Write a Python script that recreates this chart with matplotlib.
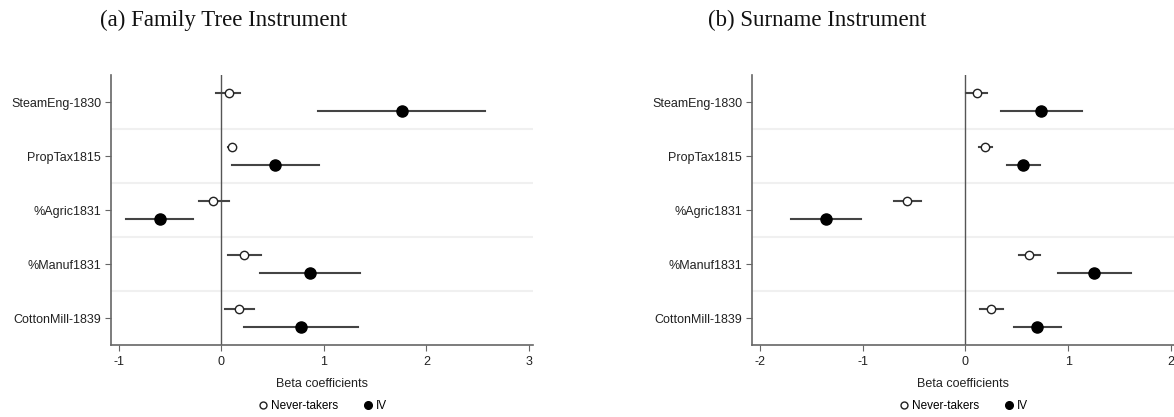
import matplotlib
matplotlib.use("Agg")
from matplotlib import pyplot as plt
from matplotlib.lines import Line2D

plt.rcParams["font.family"] = ["Liberation Sans", "DejaVu Sans"]

variables = ["SteamEng-1830", "PropTax1815", "%Agric1831", "%Manuf1831", "CottonMill-1839"]

# (a) family tree instrument
ft_nt = [0.07, 0.10, -0.08, 0.22, 0.17]
ft_nt_lo = [-0.05, 0.06, -0.22, 0.06, 0.035]
ft_nt_hi = [0.18, 0.14, 0.07, 0.385, 0.32]
ft_iv = [1.76, 0.52, -0.60, 0.86, 0.78]
ft_iv_lo = [0.945, 0.10, -0.93, 0.38, 0.22]
ft_iv_hi = [2.57, 0.95, -0.28, 1.35, 1.33]

# (b) surname instrument
sn_nt = [0.11, 0.19, -0.57, 0.62, 0.25]
sn_nt_lo = [0.01, 0.13, -0.70, 0.52, 0.14]
sn_nt_hi = [0.21, 0.26, -0.43, 0.73, 0.37]
sn_iv = [0.74, 0.56, -1.36, 1.25, 0.70]
sn_iv_lo = [0.35, 0.40, -1.70, 0.90, 0.47]
sn_iv_hi = [1.13, 0.73, -1.02, 1.61, 0.93]

ft_ticks = [-1, 0, 1, 2, 3]
sn_ticks = [-2, -1, 0, 1, 2]


def coefPanel(ax, nt, nt_lo, nt_hi, iv, iv_lo, iv_hi, ticks, xlim):
    n = len(variables)
    ypos = list(range(n))
    # separators between the variables
    for k in range(n - 1):
        ax.axhline(k + 0.5, color="#f0f0f0", lw=1.5, zorder=0)
    ax.axvline(0, color="#555555", lw=1.0, zorder=1)
    off = 1.0 / 6
    for i in ypos:
        ax.plot([nt_lo[i], nt_hi[i]], [i - off, i - off], color="#444444", lw=1.5, zorder=2)
        ax.plot([iv_lo[i], iv_hi[i]], [i + off, i + off], color="#444444", lw=1.5, zorder=2)
    ax.plot(nt, [y - off for y in ypos], "o", ms=6, mfc="white", mec="#222222", mew=1.0,
            ls="none", zorder=3)
    ax.plot(iv, [y + off for y in ypos], "o", ms=8, mfc="black", mec="black",
            ls="none", zorder=3)
    ax.set_ylim(n - 0.5, -0.5)
    ax.set_xlim(*xlim)
    ax.set_yticks(ypos)
    ax.set_yticklabels(variables, fontsize=9, color="#222222")
    ax.set_xticks(ticks)
    ax.set_xticklabels([str(t) for t in ticks], fontsize=9, color="#222222")
    ax.tick_params(axis="both", direction="out", length=4, width=0.8, color="#666666", pad=3)
    ax.tick_params(axis="x", pad=4)
    for side in ["top", "right"]:
        ax.spines[side].set_visible(False)
    for side in ["left", "bottom"]:
        ax.spines[side].set_color("#666666")
        ax.spines[side].set_linewidth(1.2)
    ax.set_xlabel("Beta coefficients", fontsize=9, color="#222222", labelpad=7)
    handles = [
        Line2D([], [], marker="o", ls="none", ms=5, mfc="white", mec="#222222", mew=1.0),
        Line2D([], [], marker="o", ls="none", ms=5.5, mfc="black", mec="black"),
    ]
    ax.legend(handles, ["Never-takers", "IV"], loc="center", bbox_to_anchor=(0.5, -0.225),
              ncol=2, frameon=False, fontsize=8.5, handletextpad=0.2, columnspacing=2.0,
              handlelength=1.0, borderpad=0.1)


fig = plt.figure(figsize=(11.74, 4.17), dpi=100)
axA = fig.add_axes([0.0945, 0.1727, 0.3595, 0.647])
axB = fig.add_axes([0.6405, 0.1727, 0.3595, 0.647])

coefPanel(axA, ft_nt, ft_nt_lo, ft_nt_hi, ft_iv, ft_iv_lo, ft_iv_hi, ft_ticks, (-1.078, 3.04))
coefPanel(axB, sn_nt, sn_nt_lo, sn_nt_hi, sn_iv, sn_iv_lo, sn_iv_hi, sn_ticks, (-2.078, 2.03))

fig.text(0.085, 0.950, "(a) Family Tree Instrument", fontsize=16.5, family="Liberation Serif",
         ha="left", va="center", color="#111111")
fig.text(0.603, 0.950, "(b) Surname Instrument", fontsize=16.5, family="Liberation Serif",
         ha="left", va="center", color="#111111")

fig.savefig("out.png", dpi=100)
